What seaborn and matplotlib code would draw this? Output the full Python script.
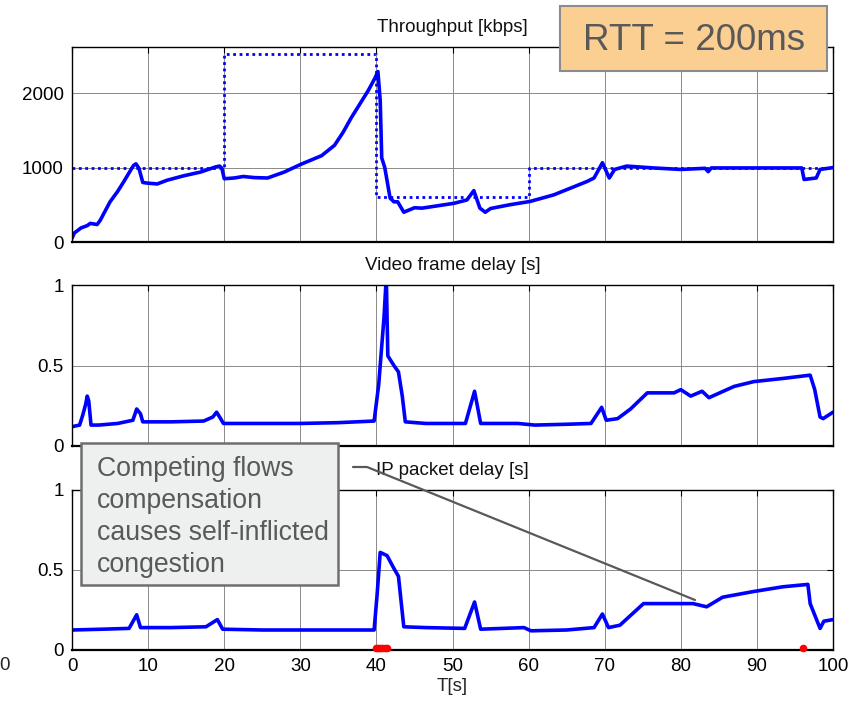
import matplotlib
matplotlib.use("Agg")
import matplotlib.pyplot as plt
import seaborn as sns
import pandas as pd
from matplotlib.lines import Line2D
from matplotlib.patches import Rectangle

# ---------------- data ----------------
thr_t = [0, 0.3, 1.2, 2.0, 2.4, 3.3, 3.7, 5.0, 6.0, 6.8, 7.5, 8.1, 8.4, 8.8, 9.3, 10.0,
         11.2, 12.5, 14.7, 16.9, 18.9, 19.4, 19.7, 20.0, 21.3, 22.5, 24.0, 25.7, 27.9,
         30.1, 32.8, 34.5, 35.6, 36.7, 38.9, 39.8, 40.2, 40.5, 40.7, 41.1, 41.8, 42.3,
         42.8, 43.6, 45.0, 46.0, 47.3, 50.2, 51.9, 52.8, 53.6, 54.3, 55.0, 57.5, 60.2,
         63.3, 67.7, 68.6, 69.7, 70.6, 71.3, 72.9, 76.4, 80.0, 83.2, 83.6, 84.0, 90.0,
         95.9, 96.2, 97.8, 98.3, 100]
thr_v = [50, 120, 190, 220, 250, 235, 290, 540, 680, 810, 930, 1030, 1050, 990, 800, 790,
         780, 830, 890, 940, 1010, 1020, 990, 850, 860, 880, 865, 860, 940,
         1045, 1160, 1300, 1470, 1670, 2030, 2200, 2290, 1900, 1130, 1000, 590, 540,
         540, 400, 460, 455, 475, 520, 565, 690, 455, 400, 450, 500, 545,
         633, 814, 860, 1065, 860, 975, 1020, 995, 975, 990, 945, 995, 995,
         995, 840, 860, 975, 1000]

target_t = [0, 20, 20, 40, 40, 60, 60, 100]
target_v = [1000, 1000, 2530, 2530, 600, 600, 1000, 1000]

vid_t = [0, 1.0, 1.4, 1.8, 2.0, 2.2, 2.5, 3.5, 6.0, 8.0, 8.5, 9.0, 9.3, 13.0, 17.3, 18.5,
         19.0, 19.4, 19.9, 25, 30, 35, 39.7, 40.3, 41.0, 41.3, 41.5, 42.3, 42.9, 43.4,
         43.8, 46.5, 51.7, 52.9, 53.7, 58.6, 60.8, 65, 68.2, 69.6, 70.2, 71.7, 73.4,
         75.6, 79.1, 80.0, 81.3, 82.8, 83.7, 87.0, 89.6, 93.5, 97.0, 97.6, 98.3, 98.7,
         100]
vid_v = [0.12, 0.13, 0.19, 0.26, 0.31, 0.28, 0.13, 0.13, 0.14, 0.16, 0.23, 0.20, 0.15, 0.15,
         0.155, 0.18, 0.21, 0.18, 0.14, 0.14, 0.14, 0.145, 0.155, 0.38, 0.80, 1.05, 0.56,
         0.50, 0.46, 0.31, 0.15, 0.14, 0.14, 0.34, 0.14, 0.14, 0.13, 0.135, 0.14, 0.24,
         0.16, 0.17, 0.23, 0.33, 0.33, 0.35, 0.31, 0.34, 0.30, 0.37, 0.40, 0.42, 0.44,
         0.35, 0.18, 0.17, 0.21]

ip_t = [0, 4, 7.5, 8.5, 9.0, 13, 17.6, 19.1, 19.8, 25, 30, 35, 39.7, 40.1, 40.5, 41.4,
        42.3, 42.9, 43.6, 46.5, 51.6, 52.9, 53.7, 59.4, 60.3, 65, 68.6, 69.7, 70.5, 72.0,
        75.1, 79.4, 81.6, 83.4, 85.5, 89.5, 93.4, 96.7, 97.0, 98.3, 98.8, 100]
ip_v = [0.125, 0.13, 0.135, 0.22, 0.14, 0.14, 0.145, 0.19, 0.13, 0.125, 0.125, 0.125, 0.125,
        0.35, 0.61, 0.59, 0.51, 0.46, 0.145, 0.14, 0.135, 0.30, 0.13, 0.14, 0.12, 0.125,
        0.14, 0.225, 0.14, 0.155, 0.29, 0.29, 0.29, 0.27, 0.33, 0.365, 0.395, 0.41, 0.29,
        0.135, 0.18, 0.19]

loss_t = [39.9, 40.2, 40.5, 40.8, 41.1, 41.4, 96.0]
loss_v = [0.012, 0.012, 0.012, 0.012, 0.012, 0.012, 0.012]

xticks = [0, 10, 20, 30, 40, 50, 60, 70, 80, 90, 100]
titles = ["Throughput [kbps]", "Video frame delay [s]", "IP packet delay [s]"]

# ---------------- style ----------------
sns.set_style("white")
plt.rcParams['font.family'] = ['Liberation Sans', 'DejaVu Sans']

W, H = 856, 705
fig = plt.figure(figsize=(W / 100, H / 100), dpi=100)

def fx(px):
    return px / W

def fy(py):
    return 1 - py / H

left, right = 72, 833
ax1 = fig.add_axes([fx(left), fy(242), fx(right - left), (242 - 47) / H])
ax2 = fig.add_axes([fx(left), fy(446), fx(right - left), (446 - 285) / H])
ax3 = fig.add_axes([fx(left), fy(650), fx(right - left), (650 - 490) / H])

BLUE = '#0000FF'
df_thr = pd.DataFrame({'t': thr_t, 'v': thr_v})
df_tgt = pd.DataFrame({'t': target_t, 'v': target_v})
df_vid = pd.DataFrame({'t': vid_t, 'v': vid_v})
df_ip = pd.DataFrame({'t': ip_t, 'v': ip_v})
df_loss = pd.DataFrame({'t': loss_t, 'v': loss_v})

sns.lineplot(data=df_tgt, x='t', y='v', ax=ax1, color=BLUE, lw=2.0, sort=False,
             estimator=None, linestyle=(0, (1, 1.3)))
sns.lineplot(data=df_thr, x='t', y='v', ax=ax1, color=BLUE, lw=2.6, sort=False, estimator=None)
sns.lineplot(data=df_vid, x='t', y='v', ax=ax2, color=BLUE, lw=2.6, sort=False, estimator=None)
sns.lineplot(data=df_ip, x='t', y='v', ax=ax3, color=BLUE, lw=2.6, sort=False, estimator=None)
sns.scatterplot(data=df_loss, x='t', y='v', ax=ax3, color='#FF0000', s=30, linewidth=0,
                clip_on=False, zorder=5)

ylims = [(0, 2620), (0, 1), (0, 1)]
yticks = [[0, 1000, 2000], [0, 0.5, 1], [0, 0.5, 1]]
yticklabels = [["0", "1000", "2000"], ["0", "0.5", "1"], ["0", "0.5", "1"]]
for i, ax in enumerate([ax1, ax2, ax3]):
    ax.set_xlim(0, 100)
    ax.set_ylim(*ylims[i])
    ax.set_xticks(xticks)
    ax.set_yticks(yticks[i])
    ax.set_yticklabels(yticklabels[i])
    ax.grid(True, color='#8a8a8a', lw=0.7)
    ax.set_axisbelow(True)
    ax.tick_params(direction='in', top=True, right=True, length=4, width=0.8,
                   labelsize=13.5, pad=6, colors='black')
    for s in ax.spines.values():
        s.set_color('black')
        s.set_linewidth(1.0)
        s.set_visible(True)
    ax.spines['bottom'].set_linewidth(1.6)
    ax.set_xlabel('')
    ax.set_ylabel('')
    ax.set_title(titles[i], fontsize=13.5, pad=11, color='#111111')
    if i < 2:
        ax.set_xticklabels([])
    else:
        ax.set_xticklabels([str(v) for v in xticks])
ax3.set_xlabel('T[s]', fontsize=13.5, labelpad=2)

# stray clipped tick label at far left
fig.text(fx(5), fy(666), '0', fontsize=13.5, ha='center', va='center')

# RTT box
fig.add_artist(Rectangle((fx(560), fy(71)), fx(827 - 560), (71 - 6) / H,
                         facecolor='#FBCF92', edgecolor='#8c8c8c', lw=1.5,
                         transform=fig.transFigure, zorder=10))
fig.text(fx(694), fy(40), 'RTT = 200ms', fontsize=26.5, color='#595959',
         ha='center', va='center', zorder=11)

# callout box
fig.add_artist(Rectangle((fx(81), fy(585)), fx(338 - 81), (585 - 443) / H,
                         facecolor='#EEEFEF', edgecolor='#6f6f6f', lw=1.8,
                         transform=fig.transFigure, zorder=10))
fig.text(fx(97), fy(517), 'Competing flows\ncompensation\ncauses self-inflicted\ncongestion',
         fontsize=19.2, color='#595959', ha='left', va='center', linespacing=1.3, zorder=11)
fig.add_artist(Line2D([fx(353), fx(367), fx(695)], [fy(467), fy(467), fy(600)],
                      color='#595959', lw=1.6, transform=fig.transFigure, zorder=9))

fig.savefig('out.png', dpi=100)
